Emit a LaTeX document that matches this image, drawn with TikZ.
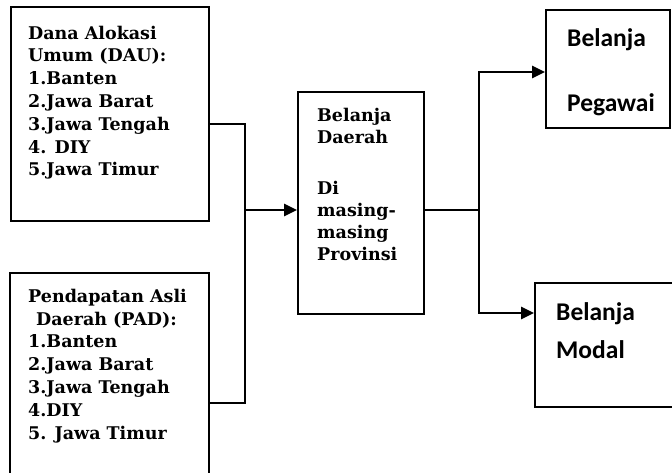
\documentclass[tikz,border=0pt]{standalone}
\usepackage{fontspec}
\setmainfont{DejaVu Serif}
\newfontfamily\calib{Carlito}
\usetikzlibrary{arrows.meta}
\begin{document}
\begin{tikzpicture}[x=1pt,y=-1pt,
  box/.style={draw=black,line width=1.8pt,inner sep=0pt,rectangle},
  ltxt/.style={anchor=base west,align=left,inner sep=0pt,font=\bfseries\fontsize{17.5}{22.8}\selectfont},
  btxt/.style={anchor=base west,align=left,inner sep=0pt,font=\bfseries\fontsize{17.5}{21.7}\selectfont},
  rtxt/.style={anchor=base west,align=left,inner sep=0pt,font=\calib\bfseries\fontsize{25.5}{38}\selectfont},
  conn/.style={draw=black,line width=2.4pt},
  arr/.style={conn,-{Triangle[length=13pt,width=12pt]}}]
\clip (0,0) rectangle (672,473);
% boxes
\node[box,minimum width=198pt,minimum height=214pt] (dau) at (110,114) {};
\node[box,minimum width=199pt,minimum height=230pt] (pad) at (109.5,388) {};
\node[box,minimum width=126pt,minimum height=222pt] (bd) at (361,203) {};
\node[box,minimum width=124pt,minimum height=118pt] (peg) at (608,69) {};
\node[box,minimum width=160pt,minimum height=124pt] (mod) at (615,345) {};
% texts (anchor = baseline of last line)
\node[ltxt] (daut) at (28,176) {Dana Alokasi\\Umum (DAU):\\1.Banten\\2.Jawa Barat\\3.Jawa Tengah\\4. DIY\\5.Jawa Timur};
\node[ltxt] (padt) at (28,439) {Pendapatan Asli\\\hspace*{8pt}Daerah (PAD):\\1.Banten\\2.Jawa Barat\\3.Jawa Tengah\\4.DIY\\5. Jawa Timur};
\node[btxt] (bdt) at (317,260) {Belanja\\Daerah\\[30pt]Di\\masing-\\masing\\Provinsi};
\node[rtxt] (pegt1) at (567,47) {Belanja};
\node[rtxt] (pegt2) at (567,112) {Pegawai};
\node[rtxt] (modt) at (556,358) {Belanja\\Modal};
% connectors
\coordinate (y124) at (0,124);
\coordinate (y403) at (0,403);
\coordinate (y72) at (0,72);
\coordinate (y313) at (0,313);
\coordinate (jl) at (245,210);
\coordinate (jr) at (479,210);
\draw[conn] (dau.east |- y124) -| (jl) |- (pad.east |- y403);
\draw[arr] (jl) -- (bd.west |- jl);
\draw[conn] (bd.east |- jr) -- (jr);
\draw[arr] (jr) |- (peg.west |- y72);
\draw[arr] (jr) |- (mod.west |- y313);
\end{tikzpicture}
\end{document}
